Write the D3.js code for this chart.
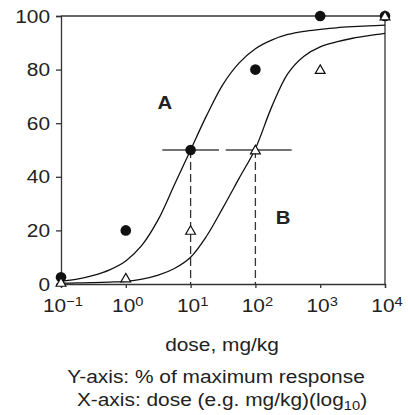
<!DOCTYPE html>
<html>
<head>
<meta charset="utf-8">
<script src="https://cdn.jsdelivr.net/npm/d3@7"></script>
<style>
  html, body { margin: 0; padding: 0; background: #fff; }
  svg { display: block; font-family: "Liberation Sans", Arial, sans-serif; }
</style>
</head>
<body>
<div id="chart"></div>
<script>
// ---------- data ----------
const xTickValues = [0.1, 1, 10, 100, 1000, 10000];
const xTickExponents = ["\u22121", "0", "1", "2", "3", "4"];
const yTickValues = [0, 20, 40, 60, 80, 100];

const doseA = [0.1, 1, 10, 100, 1000, 10000];
const responseA = [2.5, 20, 50, 80, 100, 100];
const doseB = [0.1, 1, 10, 100, 1000, 10000];
const responseB = [0.6, 2.2, 20, 50, 80, 100];

const curveLogDose = [-1, -0.75, -0.5, -0.25, 0, 0.25, 0.5, 0.75, 1, 1.25, 1.5, 1.75, 2, 2.25, 2.5, 2.75, 3, 3.25, 3.5, 3.75, 4];
const curveA = [1.0, 1.8, 3.2, 5.3, 8.6, 14.5, 24, 37, 50, 63, 74.5, 82.5, 87.8, 91, 93.1, 94.3, 95, 95.6, 96, 96.3, 96.6];
const curveB = [0.3, 0.4, 0.5, 0.7, 1.0, 1.8, 3.3, 5.8, 10, 18, 28.5, 39.5, 50.5, 66, 78.5, 85, 88.5, 90.3, 91.7, 92.7, 93.5];

const ec50Doses = [10, 100];
const rangeA = [3.66, 27.4];
const rangeB = [34.8, 363];
const labelA = {text: "A", dose: 4.0, value: 65.2};
const labelB = {text: "B", dose: 267, value: 22.3};

// ---------- layout ----------
const W = 408, H = 415;
const mLeft = 61, mRight = 385, mTop = 16, mBottom = 284;
const SX = 1.13;     // horizontal stretch of the glyphs
const FS = 18.5;

const svg = d3.select("#chart").append("svg").attr("width", W).attr("height", H);

const x = d3.scaleLog().domain([0.1, 10000]).range([mLeft, mRight]);
const y = d3.scaleLinear().domain([0, 100]).range([mBottom, mTop]);

const axisColor = "#333";

// frame (top and right)
svg.append("line").attr("x1", mLeft).attr("x2", mRight).attr("y1", mTop).attr("y2", mTop)
  .attr("stroke", axisColor).attr("stroke-width", 1.3);
svg.append("line").attr("x1", mRight).attr("x2", mRight).attr("y1", mTop).attr("y2", mBottom)
  .attr("stroke", axisColor).attr("stroke-width", 1.3);

// y axis
const yAxis = svg.append("g").attr("transform", `translate(${mLeft},0)`)
  .call(d3.axisLeft(y).tickValues(yTickValues).tickSize(5).tickFormat(""));
yAxis.select(".domain").attr("stroke", axisColor).attr("stroke-width", 1.3);
yAxis.selectAll(".tick line").attr("stroke", axisColor).attr("stroke-width", 1.3);

// x axis
const xAxis = svg.append("g").attr("transform", `translate(0,${mBottom})`)
  .call(d3.axisBottom(x).tickValues(xTickValues).tickSize(4).tickFormat(""));
xAxis.select(".domain").attr("stroke", axisColor).attr("stroke-width", 1.3);
xAxis.selectAll(".tick line").attr("stroke", axisColor).attr("stroke-width", 1.3);

function stretchedText(px, py, anchor) {
  return svg.append("text")
    .attr("transform", `translate(${px},${py}) scale(${SX},1)`)
    .attr("text-anchor", anchor)
    .attr("font-size", FS)
    .attr("fill", "#222");
}

// y tick labels
yTickValues.forEach(v => {
  stretchedText(50, y(v) + 6.5, "end").text(v);
});

// x tick labels with superscripts
xTickValues.forEach((v, i) => {
  const t = stretchedText(x(v) + 2, 312, "middle");
  t.append("tspan").text("10");
  t.append("tspan").attr("font-size", 13).attr("dy", -6).text(xTickExponents[i]);
});

// axis title
stretchedText(222, 351, "middle").text("dose, mg/kg");

// captions
stretchedText(216, 383, "middle").text("Y-axis: % of maximum response");
const cap2 = stretchedText(222, 406, "middle");
cap2.append("tspan").text("X-axis: dose (e.g. mg/kg)(log");
cap2.append("tspan").attr("font-size", 13).attr("dy", 4).text("10");
cap2.append("tspan").attr("dy", -4).text(")");

// EC50 horizontal ranges
[rangeA, rangeB].forEach(r => {
  svg.append("line").attr("x1", x(r[0])).attr("x2", x(r[1]))
    .attr("y1", y(50)).attr("y2", y(50))
    .attr("stroke", "#444").attr("stroke-width", 1.4);
});

// dashed verticals
ec50Doses.forEach(d => {
  svg.append("line").attr("x1", x(d)).attr("x2", x(d))
    .attr("y1", y(50)).attr("y2", y(0))
    .attr("stroke", "#333").attr("stroke-width", 1.3)
    .attr("stroke-dasharray", "8,4");
});

// curves
const line = d3.line()
  .x(d => x(Math.pow(10, d[0])))
  .y(d => y(d[1]))
  .curve(d3.curveCatmullRom.alpha(0.5));
[curveA, curveB].forEach(c => {
  svg.append("path")
    .datum(curveLogDose.map((l, i) => [l, c[i]]))
    .attr("d", line)
    .attr("fill", "none")
    .attr("stroke", "#111")
    .attr("stroke-width", 1.3);
});

// markers A (filled circles)
svg.append("g").selectAll("circle").data(doseA.map((d, i) => [d, responseA[i]]))
  .join("circle")
  .attr("cx", d => x(d[0])).attr("cy", d => y(d[1]))
  .attr("r", 5.3).attr("fill", "#111");

// markers B (open triangles)
const tri = d3.symbol().type(d3.symbolTriangle).size(42);
svg.append("g").selectAll("path").data(doseB.map((d, i) => [d, responseB[i]]))
  .join("path")
  .attr("d", tri)
  .attr("transform", d => `translate(${x(d[0])},${y(d[1]) + 1})`)
  .attr("fill", "#fff").attr("stroke", "#111").attr("stroke-width", 1.2);

// labels A and B
[labelA, labelB].forEach(l => {
  svg.append("text")
    .attr("transform", `translate(${x(l.dose)},${y(l.value)}) scale(${SX},1)`)
    .attr("text-anchor", "middle")
    .attr("font-size", 18)
    .attr("font-weight", "bold")
    .attr("fill", "#222")
    .text(l.text);
});
</script>
</body>
</html>
